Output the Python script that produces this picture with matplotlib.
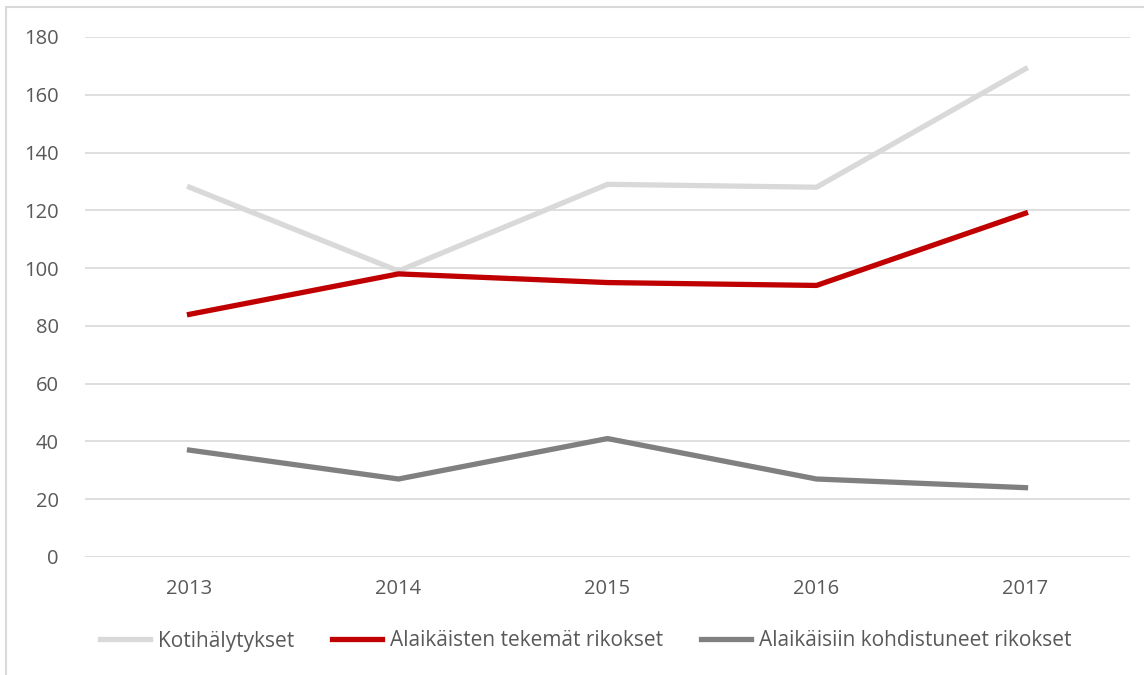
import matplotlib.pyplot as plt
from matplotlib.patches import Rectangle

years = ["2013", "2014", "2015", "2016", "2017"]
kotihalytykset = [128, 99, 129, 128, 169]
alaikaisten_tekemat = [84, 98, 95, 94, 119]
alaikaisiin_kohdistuneet = [37, 27, 41, 27, 24]

plt.rcParams['font.family'] = ['Open Sans', 'DejaVu Sans']

fig = plt.figure(figsize=(11.44, 6.75), dpi=100)
ax = fig.add_axes([85 / 1144, 1 - 557 / 675, 1045 / 1144, 520 / 675])

x = range(len(years))
ax.plot(x, kotihalytykset, color="#D9D9D9", lw=3.8, label="Kotihälytykset", clip_on=False)
ax.plot(x, alaikaisten_tekemat, color="#C00000", lw=3.8, label="Alaikäisten tekemät rikokset", clip_on=False)
ax.plot(x, alaikaisiin_kohdistuneet, color="#808080", lw=3.8, label="Alaikäisiin kohdistuneet rikokset", clip_on=False)

ax.set_xlim(-0.5, len(years) - 0.5)
ax.set_ylim(0, 180)
ax.set_yticks(range(0, 181, 20))
ax.set_xticks(list(x))
ax.set_xticklabels(years)
ax.grid(axis="y", color="#D9D9D9", lw=1.2)
ax.set_axisbelow(True)
for s in ax.spines.values():
    s.set_visible(False)
ax.tick_params(length=0, labelsize=14.5, colors="#595959", pad=19)
ax.tick_params(axis="x", pad=16)

fig.legend(loc="center", bbox_to_anchor=(0.512, 1 - 641 / 675), ncol=3, frameon=False,
           fontsize=15, labelcolor="#595959", handlelength=2.4, handletextpad=0.4,
           columnspacing=1.8)

# outer frame of the chart area
fig.patches.append(Rectangle((5.5 / 1144, -0.1), 1.2, 1 - 7.5 / 675 + 0.1,
                             transform=fig.transFigure, fill=False,
                             edgecolor="#D9D9D9", lw=1.5))

fig.savefig("out.png", dpi=100)
